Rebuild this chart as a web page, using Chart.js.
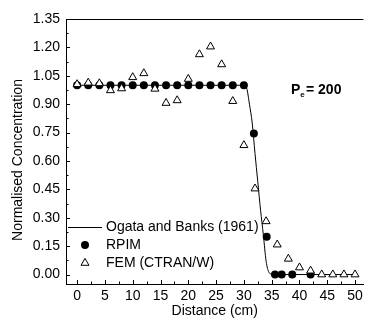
<!DOCTYPE html>
<html>
<head>
<meta charset="utf-8">
<script src="https://cdn.jsdelivr.net/npm/chart.js@4/dist/chart.umd.min.js"></script>
<style>
  html, body { margin: 0; padding: 0; background: #fff; }
  #wrap { width: 369px; height: 320px; }
</style>
</head>
<body>
<div id="wrap"><canvas id="chart" width="369" height="320"></canvas></div>
<script>
// --- DATA ---
const X_TICKS = [0, 5, 10, 15, 20, 25, 30, 35, 40, 45, 50];
const Y_TICKS = [0.00, 0.15, 0.30, 0.45, 0.60, 0.75, 0.90, 1.05, 1.20, 1.35];

// Ogata and Banks (1961) analytical curve
const OGATA_X = [0, 30, 30.5, 31, 31.5, 32, 32.5, 33, 33.5, 34, 34.5, 35, 36, 50];
const OGATA_Y = [1.0, 1.0, 0.985, 0.90, 0.80, 0.64, 0.49, 0.34, 0.21, 0.07, 0.012, 0.002, 0, 0];

// RPIM nodes
const RPIM_X = [0, 2, 4, 6, 8, 10, 12, 14, 16, 18, 20, 22, 24, 26, 28, 30, 31.8, 34.1, 35.6, 36.8, 38.7, 42];
const RPIM_Y = [1, 1, 1, 1, 1, 1, 1, 1, 1, 1, 1, 1, 1, 1, 1, 1, 0.745, 0.20, 0, 0, 0, 0];

// FEM (CTRAN/W)
const FEM_X = [0, 2, 4, 6, 8, 10, 12, 14, 16, 18, 20, 22, 24, 26, 28, 30, 32, 34, 36, 38, 40, 42, 44, 46, 48, 50];
const FEM_Y = [1.005, 1.013, 1.010, 0.973, 0.983, 1.042, 1.063, 0.981, 0.906, 0.920,
               1.033, 1.163, 1.204, 1.110, 0.916, 0.683, 0.454, 0.281, 0.158, 0.083,
               0.037, 0.020, 0.0, 0.0, 0.0, 0.0];

const LABELS = ['Ogata and Banks (1961)', 'RPIM', 'FEM (CTRAN/W)'];

const toPoints = (xs, ys) => xs.map((x, i) => ({ x: x, y: ys[i] }));

Chart.defaults.font.family = "'Liberation Sans', Arial, sans-serif";
Chart.defaults.font.size = 14;
Chart.defaults.color = '#000';

// --- INWARD TICKS, TOP FRAME, LEGEND, ANNOTATION ---
const decorPlugin = {
  id: 'decor',
  afterDraw(chart) {
    const { ctx, chartArea: a, scales: { x, y } } = chart;
    ctx.save();
    ctx.strokeStyle = '#000';
    ctx.lineWidth = 1;

    // top frame line
    ctx.beginPath();
    ctx.moveTo(a.left, a.top + 0.5);
    ctx.lineTo(a.right, a.top + 0.5);
    ctx.stroke();

    ctx.beginPath();
    // y ticks (major + minor), pointing inward
    Y_TICKS.forEach((v, i) => {
      const py = Math.round(y.getPixelForValue(v)) + 0.5;
      ctx.moveTo(a.left, py); ctx.lineTo(a.left + 4, py);
      if (i < Y_TICKS.length - 1) {
        const pm = Math.round(y.getPixelForValue((v + Y_TICKS[i + 1]) / 2)) + 0.5;
        ctx.moveTo(a.left, pm); ctx.lineTo(a.left + 2.5, pm);
      }
    });
    // x ticks (major + minor)
    X_TICKS.forEach((v, i) => {
      const px = Math.round(x.getPixelForValue(v)) + 0.5;
      ctx.moveTo(px, a.bottom); ctx.lineTo(px, a.bottom - 4);
      if (i < X_TICKS.length - 1) {
        const pm = Math.round(x.getPixelForValue((v + X_TICKS[i + 1]) / 2)) + 0.5;
        ctx.moveTo(pm, a.bottom); ctx.lineTo(pm, a.bottom - 2.5);
      }
    });
    ctx.stroke();

    // y axis title
    ctx.fillStyle = '#000';
    ctx.font = "14px 'Liberation Sans', Arial, sans-serif";
    ctx.textAlign = 'center';
    ctx.textBaseline = 'middle';
    ctx.save();
    ctx.translate(18, 160);
    ctx.rotate(-Math.PI / 2);
    ctx.fillText('Normalised Concentration', 0, 0);
    ctx.restore();

    // legend (bottom-left inside plot)
    const lx = 68, mx = 85, tx = 106;
    const rows = [227, 245, 263];
    ctx.textAlign = 'left';
    ctx.beginPath();
    ctx.moveTo(lx, rows[0] + 0.5); ctx.lineTo(102, rows[0] + 0.5);
    ctx.stroke();
    ctx.beginPath();
    ctx.arc(mx, rows[1], 4, 0, Math.PI * 2);
    ctx.fill();
    const r = 4.6, c30 = Math.cos(Math.PI / 6);
    ctx.beginPath();
    ctx.moveTo(mx, rows[2] - r);
    ctx.lineTo(mx + r * c30, rows[2] + r / 2);
    ctx.lineTo(mx - r * c30, rows[2] + r / 2);
    ctx.closePath();
    ctx.fillStyle = '#fff'; ctx.fill(); ctx.stroke();
    ctx.fillStyle = '#000';
    LABELS.forEach((t, i) => ctx.fillText(t, tx, rows[i]));

    // Peclet number annotation
    ctx.textBaseline = 'alphabetic';
    ctx.font = "bold 14px 'Liberation Sans', Arial, sans-serif";
    ctx.fillText('P', 291, 94);
    const pw = ctx.measureText('P').width;
    ctx.font = "bold 8px 'Liberation Sans', Arial, sans-serif";
    ctx.fillText('e', 291 + pw, 97);
    ctx.font = "bold 14px 'Liberation Sans', Arial, sans-serif";
    ctx.fillText('= 200', 306, 94);
    ctx.restore();
  }
};

new Chart(document.getElementById('chart'), {
  type: 'scatter',
  data: {
    datasets: [
      {
        label: LABELS[0],
        type: 'line',
        data: toPoints(OGATA_X, OGATA_Y),
        borderColor: '#000',
        borderWidth: 1,
        pointRadius: 0,
        cubicInterpolationMode: 'monotone',
        fill: false,
        order: 3
      },
      {
        label: LABELS[1],
        data: toPoints(RPIM_X, RPIM_Y),
        pointStyle: 'circle',
        pointRadius: 4,
        backgroundColor: '#000',
        borderColor: '#000',
        borderWidth: 0,
        order: 2
      },
      {
        label: LABELS[2],
        data: toPoints(FEM_X, FEM_Y),
        pointStyle: 'triangle',
        pointRadius: 4.6,
        backgroundColor: '#fff',
        borderColor: '#000',
        borderWidth: 1,
        order: 1
      }
    ]
  },
  options: {
    responsive: false,
    animation: false,
    devicePixelRatio: 1,
    layout: { padding: { top: 19, right: 0, bottom: 0, left: 0 } },
    plugins: {
      legend: { display: false },
      tooltip: { enabled: false }
    },
    scales: {
      x: {
        type: 'linear',
        min: -2,
        max: 51.5,
        afterBuildTicks: s => { s.ticks = X_TICKS.map(v => ({ value: v })); },
        afterFit: s => { s.height = 36; },
        grid: { display: true, drawOnChartArea: false, drawTicks: false },
        border: { display: true, color: '#000', width: 1 },
        ticks: { padding: 4, maxRotation: 0, autoSkip: false, callback: v => String(v) },
        title: { display: true, text: 'Distance (cm)', padding: { top: 0, bottom: 0 } }
      },
      y: {
        type: 'linear',
        min: -0.05,
        max: 1.35,
        afterBuildTicks: s => { s.ticks = Y_TICKS.map(v => ({ value: v })); },
        afterFit: s => { s.width = 66; },
        grid: { display: true, drawOnChartArea: false, drawTicks: false },
        border: { display: true, color: '#000', width: 1 },
        ticks: { padding: 6, autoSkip: false, callback: v => v.toFixed(2) }
      }
    }
  },
  plugins: [decorPlugin]
});
</script>
</body>
</html>
